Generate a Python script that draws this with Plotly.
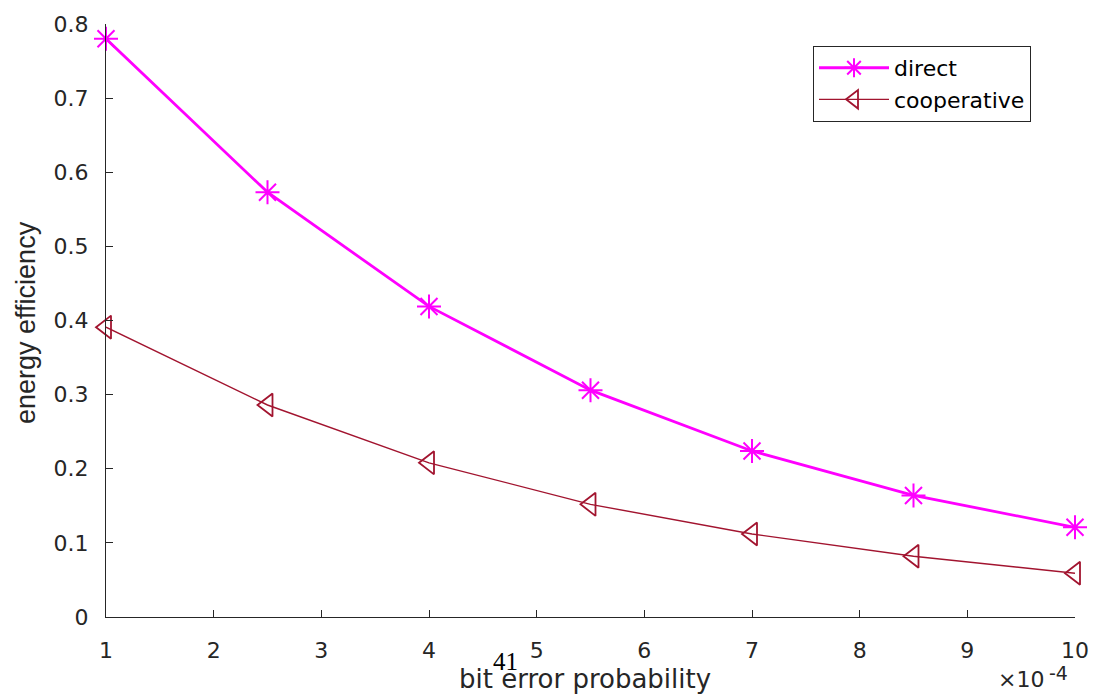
import plotly.graph_objects as go

ber = [1, 2.5, 4, 5.5, 7, 8.5, 10]  # x 10^-4
direct = [0.780, 0.573, 0.419, 0.306, 0.224, 0.164, 0.121]
cooperative = [0.391, 0.286, 0.208, 0.152, 0.112, 0.082, 0.059]
x_ticks = [1, 2, 3, 4, 5, 6, 7, 8, 9, 10]
y_ticks = [0, 0.1, 0.2, 0.3, 0.4, 0.5, 0.6, 0.7, 0.8]

W, H = 1102, 696
L, R, T, B = 106, 27, 22, 79
PW, PH = W - L - R, H - T - B


def px(x):
    return (x - L) / PW


def py(y):
    return (H - B - y) / PH


fig = go.Figure()
fig.add_trace(go.Scatter(
    x=ber, y=direct, name="direct", mode="lines+markers", cliponaxis=False,
    line=dict(color="#FF00FF", width=2.8),
    marker=dict(symbol="asterisk-open", size=20, color="#FF00FF",
                line=dict(color="#FF00FF", width=2)),
))
fig.add_trace(go.Scatter(
    x=ber, y=cooperative, name="cooperative", mode="lines+markers", cliponaxis=False,
    line=dict(color="#A2142F", width=1.4),
    marker=dict(symbol="triangle-left-open", size=20, color="#A2142F",
                line=dict(color="#A2142F", width=1.8)),
))

SANS = "DejaVu Sans, Verdana, sans-serif"
axis_font = dict(family=SANS, size=22, color="#262626")
fig.update_layout(
    width=W, height=H,
    margin=dict(l=L, r=R, t=T, b=B),
    paper_bgcolor="white", plot_bgcolor="white",
    showlegend=True,
    legend=dict(x=px(813), y=py(44), xanchor="left", yanchor="top",
                bgcolor="white", bordercolor="#262626", borderwidth=1,
                font=dict(family=SANS, size=22, color="#000000"),
                tracegroupgap=0, itemwidth=70),
    xaxis=dict(range=[1, 10], tickvals=x_ticks, ticktext=[str(v) for v in x_ticks],
               showgrid=False, zeroline=False, showline=True, linecolor="#262626",
               linewidth=1, ticks="inside", ticklen=7, tickcolor="#262626",
               tickfont=axis_font, ticklabelstandoff=14),
    yaxis=dict(range=[0, 0.8], tickvals=y_ticks, ticktext=[("%g" % v) for v in y_ticks],
               showgrid=False, zeroline=False, showline=True, linecolor="#262626",
               linewidth=1, ticks="inside", ticklen=7, tickcolor="#262626",
               tickfont=axis_font, ticklabelstandoff=12),
)
fig.add_annotation(text="bit error probability", xref="paper", yref="paper",
                   x=px(585), y=py(679), xanchor="center", yanchor="middle", showarrow=False,
                   font=dict(family=SANS, size=26, color="#262626"))
fig.add_annotation(text="energy efficiency", xref="paper", yref="paper",
                   x=px(26), y=py(322), xanchor="center", yanchor="middle", textangle=-90,
                   showarrow=False,
                   font=dict(family="Liberation Sans Narrow, Liberation Sans, sans-serif",
                             size=27, color="#262626"))
fig.add_annotation(text="×10", xref="paper", yref="paper",
                   x=px(1046), y=py(694), xanchor="right", yanchor="bottom", showarrow=False,
                   font=dict(family=SANS, size=22, color="#262626"))
fig.add_annotation(text="-4", xref="paper", yref="paper",
                   x=px(1047), y=py(686), xanchor="left", yanchor="bottom", showarrow=False,
                   font=dict(family=SANS, size=19, color="#262626"))
fig.add_annotation(text="41", xref="paper", yref="paper",
                   x=px(505), y=py(662), xanchor="center", yanchor="middle", showarrow=False,
                   font=dict(family="Liberation Serif, Times New Roman, serif", size=25,
                             color="#000000"))

fig.write_html("out.html")
